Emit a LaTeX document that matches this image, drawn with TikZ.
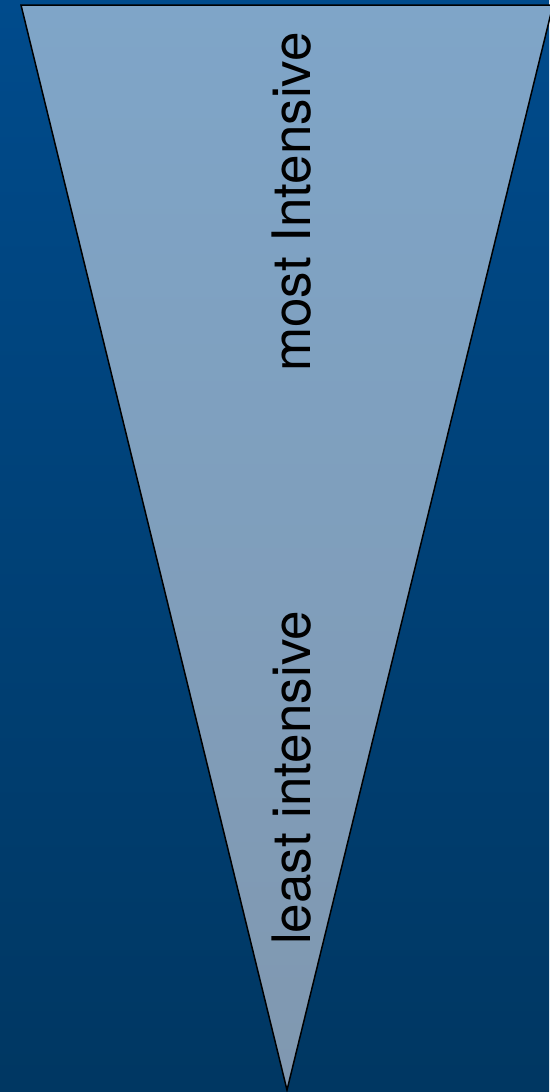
\documentclass[tikz,border=0pt]{standalone}
\usepackage{fontspec}
\setmainfont{TeX Gyre Heros}
\definecolor{bgtop}{RGB}{0,75,140}
\definecolor{bgbot}{RGB}{0,55,98}
\definecolor{tritop}{RGB}{127,165,200}
\definecolor{tribot}{RGB}{128,152,176}
\tikzset{lbl/.style={rotate=90, anchor=base west, inner sep=0pt, font=\fontsize{53}{60}\selectfont, text=black}}
\begin{document}
\begin{tikzpicture}[x=1pt,y=-1pt]
\useasboundingbox (0,0) rectangle (549,1092);
\shade[top color=bgtop, bottom color=bgbot] (0,0) rectangle (549,1092);
\coordinate (tl) at (21,5);
\coordinate (tr) at (553,5);
\coordinate (tb) at (287,1090);
\shadedraw[top color=tritop, bottom color=tribot, draw=black, line width=1.5pt, line join=miter] (tl) -- (tr) -- (tb) -- cycle;
\node[lbl] (most) at (310,372) {most Intensive};
\node[lbl] (least) at (310,945) {least intensive};
\end{tikzpicture}
\end{document}
